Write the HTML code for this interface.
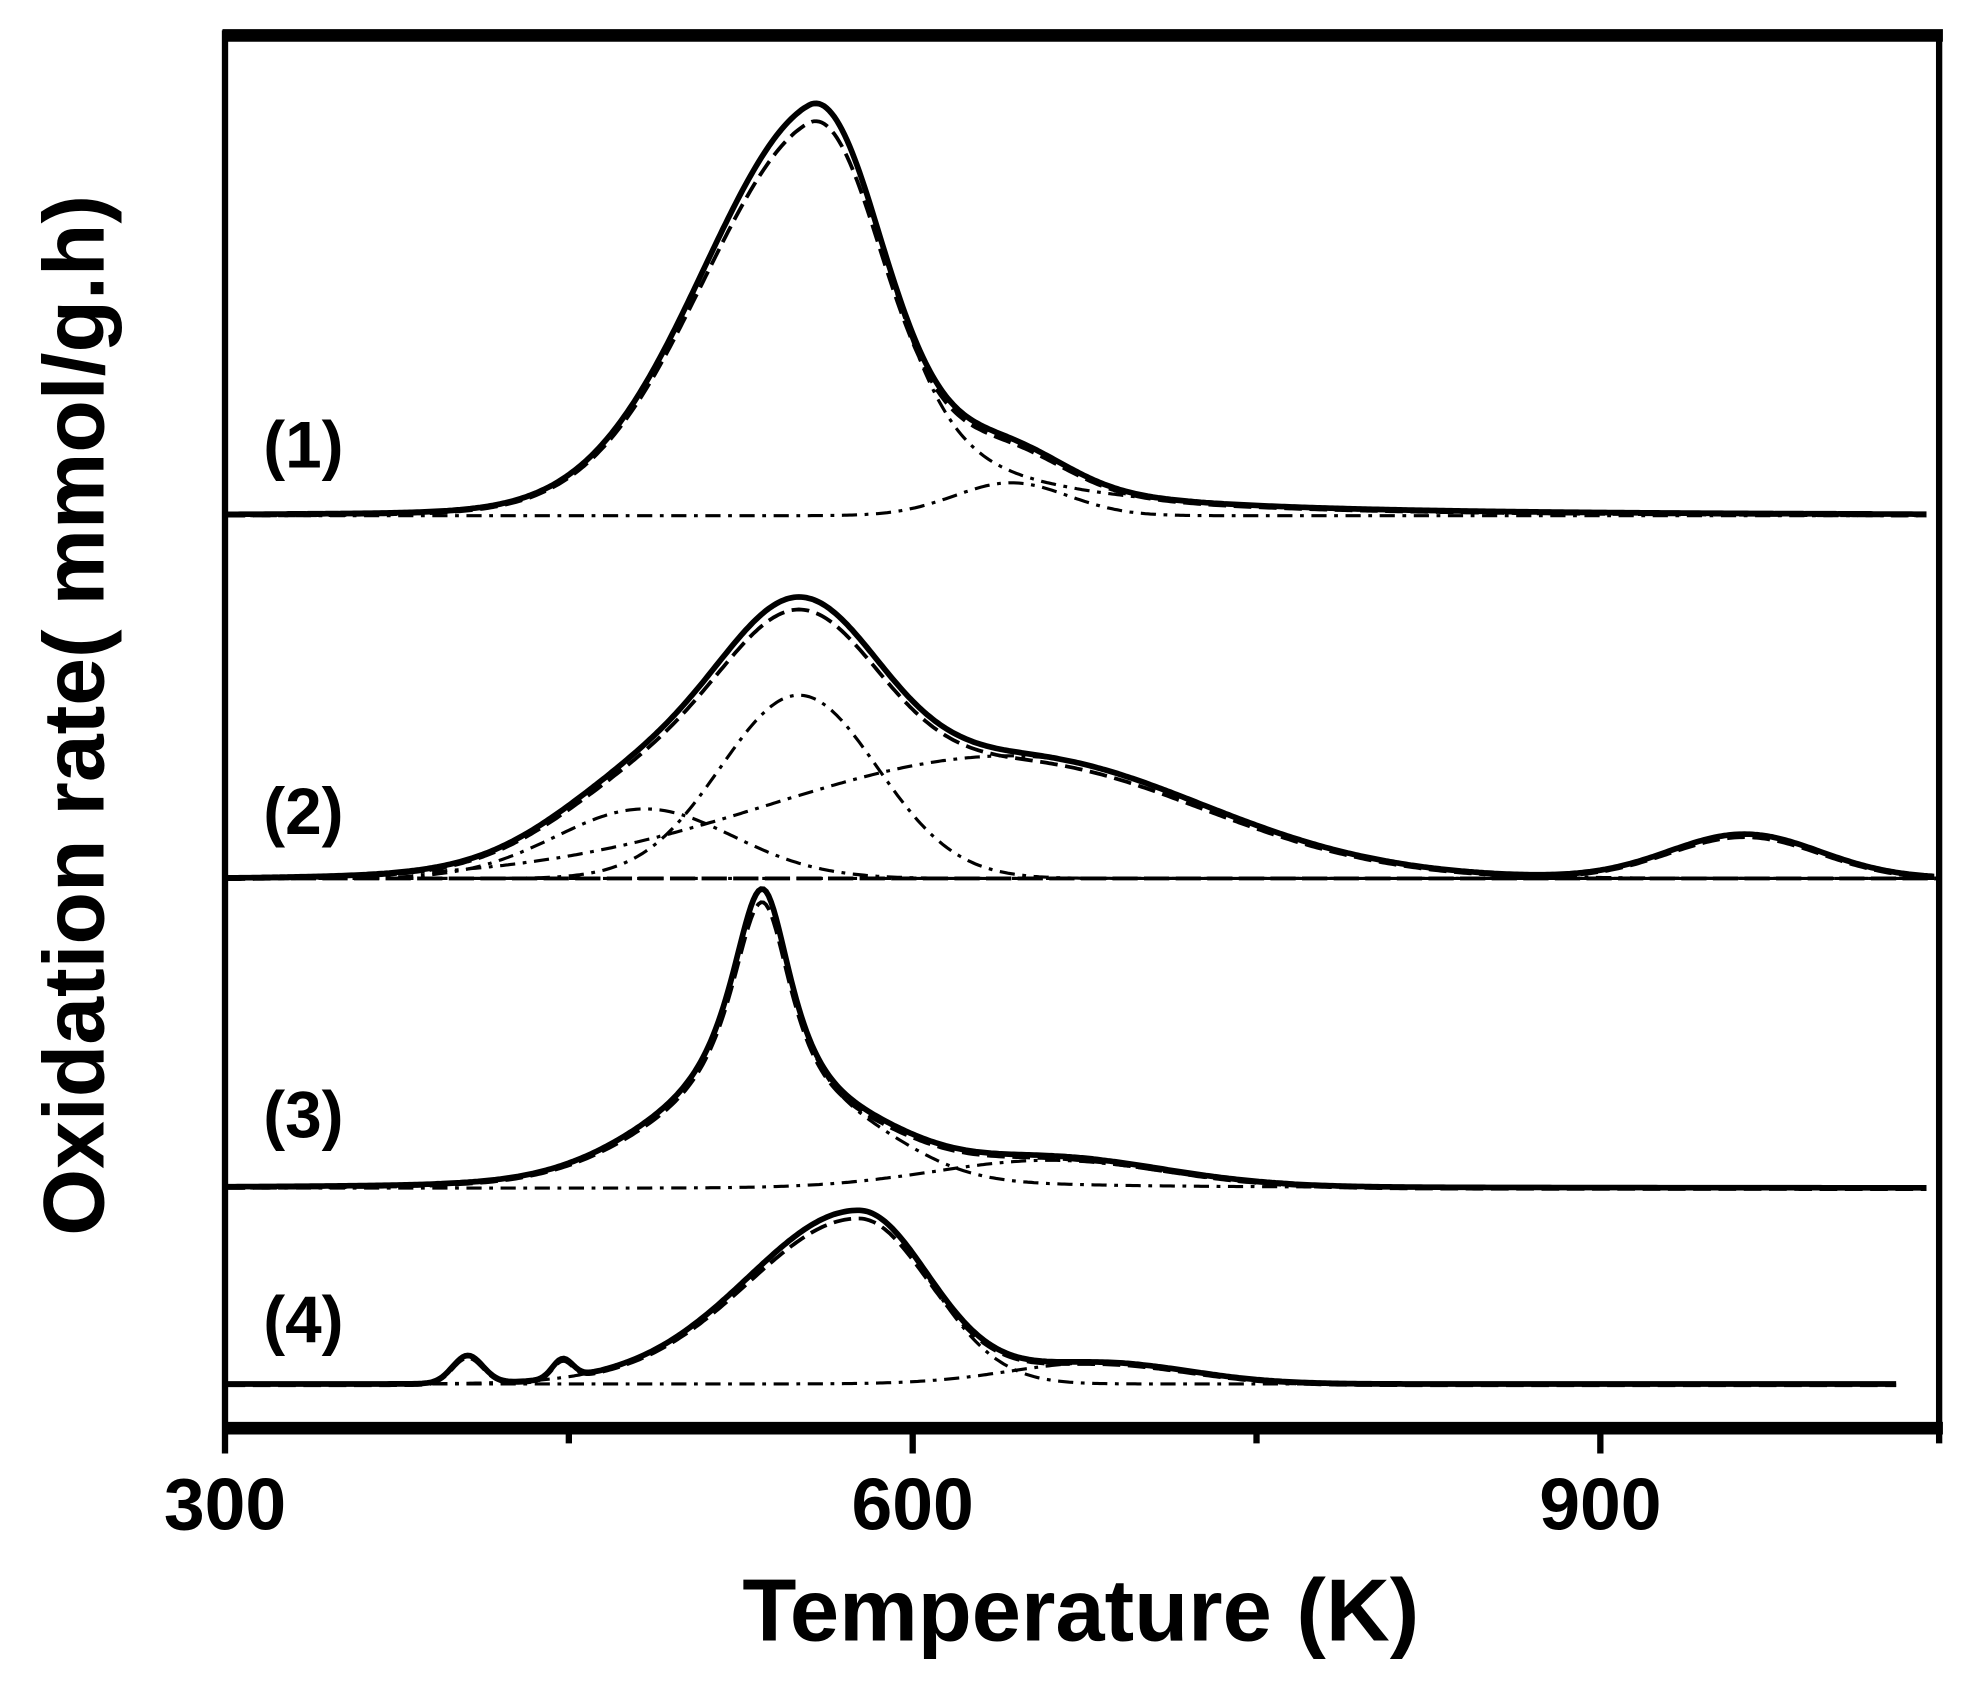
<!DOCTYPE html>
<html><head><meta charset="utf-8"><style>
html,body{margin:0;padding:0;background:#fff;}
svg{display:block;}
text{font-family:"Liberation Sans",Arial,sans-serif;font-weight:bold;fill:#000;}
</style></head><body>
<svg id="s" width="1972" height="1681" viewBox="0 0 1560 1330" preserveAspectRatio="none" xmlns="http://www.w3.org/2000/svg">
<rect x="0" y="0" width="1560" height="1330" fill="#fff"/>
<g id="curves" fill="none" stroke="#000"></g>
<line x1="176" y1="28" x2="1537" y2="28" stroke="#000" stroke-width="10"/>
<line x1="176" y1="1130" x2="1537" y2="1130" stroke="#000" stroke-width="10"/>
<line x1="178" y1="24" x2="178" y2="1150" stroke="#000" stroke-width="5"/>
<line x1="1534" y1="24" x2="1534" y2="1142" stroke="#000" stroke-width="5"/>
<line x1="722" y1="1130" x2="722" y2="1150" stroke="#000" stroke-width="5"/>
<line x1="1266" y1="1130" x2="1266" y2="1150" stroke="#000" stroke-width="5"/>
<line x1="450" y1="1130" x2="450" y2="1142" stroke="#000" stroke-width="5"/>
<line x1="994" y1="1130" x2="994" y2="1142" stroke="#000" stroke-width="5"/>
<text x="178" y="1210" font-size="58" text-anchor="middle">300</text>
<text x="722" y="1210" font-size="58" text-anchor="middle">600</text>
<text x="1266" y="1210" font-size="58" text-anchor="middle">900</text>
<text x="855" y="1298" font-size="70" text-anchor="middle">Temperature (K)</text>
<text transform="translate(82,566) rotate(-90)" font-size="68" text-anchor="middle">Oxidation rate(   mmol/g.h)</text>
<text x="240" y="370" font-size="52" text-anchor="middle">(1)</text>
<text x="240" y="660" font-size="52" text-anchor="middle">(2)</text>
<text x="240" y="900" font-size="52" text-anchor="middle">(3)</text>
<text x="240" y="1062" font-size="52" text-anchor="middle">(4)</text>
</svg>
<script>
function g(x,c){var s=x<c.c?(c.sl||c.s):(c.sr||c.s);var d=(x-c.c)/s;return c.h*Math.exp(-d*d/2);}
function l(x,c){var s=x<c.c?(c.sl||c.s):(c.sr||c.s);var d=(x-c.c)/s;return c.h/(1+d*d);}
function f(x,c){return c.L?l(x,c):g(x,c);}
var sets=[
 {b:408,x0:180,x1:1525,comps:[{c:640,h:285,sl:88,sr:52},{c:800,h:26,s:45},{c:690,h:60,sl:70,sr:120,L:1}],dd:[[0,2],[1]]},
 {b:695,x0:180,x1:1530,comps:[{c:510,h:55,s:70},{c:632,h:145,s:62},{c:800,h:97,sl:190,sr:150},{c:1380,h:35,s:60}],dd:[[0],[1],[2],[3]]},
 {b:940,x0:180,x1:1525,comps:[{c:603,h:195,sl:32,sr:30,L:1},{c:560,h:40,s:70},{c:830,h:22,s:90},{c:680,h:25,s:50}],dd:[[0,1,3],[2]]},
 {b:1095,x0:180,x1:1500,comps:[{c:680,h:135,sl:85,sr:55},{c:870,h:17,s:70},{c:560,h:6,s:80},{c:370,h:22,s:12},{c:445,h:15,s:8}],dd:[[0,2],[1]]}
];
var G=document.getElementById('curves'),ns="http://www.w3.org/2000/svg";
function path(d,w,da){var p=document.createElementNS(ns,'path');p.setAttribute('d',d);p.setAttribute('stroke-width',w);if(da)p.setAttribute('stroke-dasharray',da);G.appendChild(p);}
sets.forEach(function(S,i){
 var tot="",fit="";
 for(var x=S.x0;x<=S.x1;x+=2){var v=0;S.comps.forEach(function(c){v+=f(x,c);});
  tot+=(x==S.x0?"M":"L")+x+","+(S.b-v).toFixed(1);
  fit+=(x==S.x0?"M":"L")+x+","+(S.b-v*0.96+1).toFixed(1);}
 S.dd.forEach(function(idx){var d="";for(var x=S.x0;x<=S.x1;x+=2){var v=0;idx.forEach(function(k){v+=f(x,S.comps[k]);});d+=(x==S.x0?"M":"L")+x+","+(S.b-v).toFixed(1);}path(d,2.5,"12,6,3,6");});
 path(fit,3,"14,6");
 path(tot,4.5);
 if(i==1)path("M180,695L1535,695",3,"20,5");
});
</script>
</body></html>
